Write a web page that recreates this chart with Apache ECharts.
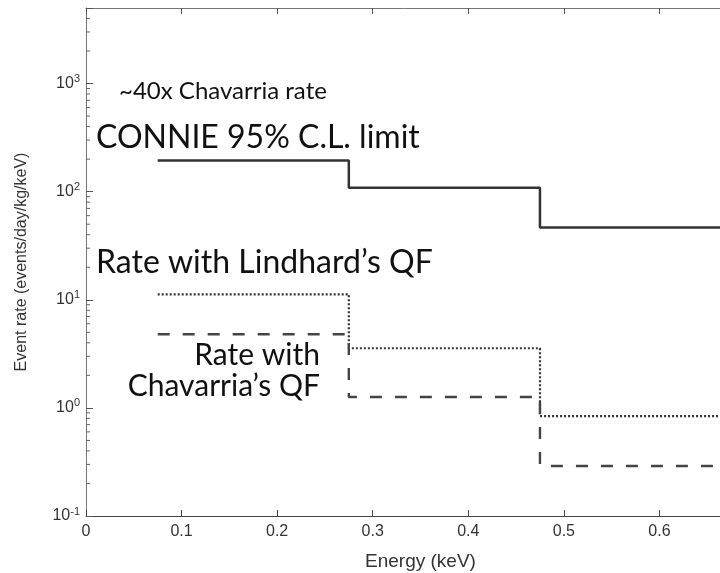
<!DOCTYPE html>
<html>
<head>
<meta charset="utf-8">
<script src="https://cdn.jsdelivr.net/npm/echarts@6/dist/echarts.min.js"></script>
<style>
  html, body { margin: 0; padding: 0; background: #fff; }
  #chart { width: 720px; height: 573px; }
</style>
</head>
<body>
<div id="chart"></div>
<script>
// Energy bin edges (keV) and per-bin event rates (events/day/kg/keV)
const binEdges = [0.075, 0.275, 0.475, 0.675];
const connieLimit = [194, 109, 46.7];
const lindhardRate = [11.2, 3.56, 0.84];
const chavarriaRate = [4.8, 1.26, 0.29];

// Minor tick positions on the log axis
const minorTicks = [
  0.2, 0.3, 0.4, 0.5, 0.6, 0.7, 0.8, 0.9,
  2, 3, 4, 5, 6, 7, 8, 9,
  20, 30, 40, 50, 60, 70, 80, 90,
  200, 300, 400, 500, 600, 700, 800, 900,
  2000, 3000, 4000
];

// Turn per-bin values into step-line points (last value repeated at the final edge)
function stepPoints(values) {
  const pts = values.map((v, i) => [binEdges[i], v]);
  pts.push([binEdges[binEdges.length - 1], values[values.length - 1]]);
  return pts;
}

const axisColor = '#444';
const textColor = '#333';
const sansFont = '"Liberation Sans", Arial, sans-serif';
const annotFont = 'Lato, "Noto Sans", sans-serif';

const chart = echarts.init(document.getElementById('chart'), null, { renderer: 'canvas' });

chart.setOption({
  animation: false,
  backgroundColor: '#fff',
  grid: { left: 86, top: 8, bottom: 57, right: -35, containLabel: false, outerBoundsMode: 'none' },
  xAxis: [
    {
      type: 'value', min: 0, max: 0.7, interval: 0.1, position: 'bottom',
      name: 'Energy (keV)', nameLocation: 'middle', nameGap: 36,
      nameTextStyle: { color: textColor, fontSize: 19, fontFamily: sansFont },
      axisLine: { show: true, lineStyle: { color: axisColor, width: 1 } },
      axisTick: { show: true, inside: true, length: 6, lineStyle: { color: axisColor } },
      axisLabel: {
        color: textColor, fontSize: 16, margin: 8, fontFamily: sansFont,
        formatter: v => (v === 0 ? '0' : v.toFixed(1))
      },
      splitLine: { show: false }
    },
    {
      type: 'value', min: 0, max: 0.7, interval: 0.1, position: 'top',
      axisLine: { show: true, lineStyle: { color: '#777', width: 1 } },
      axisTick: { show: true, inside: true, length: 6, lineStyle: { color: '#555' } },
      axisLabel: { show: false },
      splitLine: { show: false }
    }
  ],
  yAxis: {
    type: 'log', logBase: 10, min: 0.1, max: 5000,
    name: 'Event rate (events/day/kg/keV)', nameLocation: 'middle', nameGap: 56,
    nameRotate: 90,
    nameTextStyle: { color: textColor, fontSize: 16, fontFamily: sansFont },
    axisLine: { show: true, lineStyle: { color: '#777', width: 1 } },
    axisTick: { show: true, inside: true, length: 7, lineStyle: { color: '#555' } },
    axisLabel: {
      margin: 6,
      formatter: v => {
        const e = Math.log10(v);
        if (Math.abs(e - Math.round(e)) > 1e-6) return '';
        return '{b|10}{s|' + Math.round(e) + '}';
      },
      rich: {
        b: { color: textColor, fontSize: 16, fontFamily: sansFont },
        s: { color: textColor, fontSize: 11, fontFamily: sansFont, verticalAlign: 'bottom', padding: [0, 0, 9, 0] }
      }
    },
    splitLine: { show: false }
  },
  series: [
    {
      name: 'CONNIE 95% C.L. limit', type: 'line', step: 'end',
      data: stepPoints(connieLimit), symbol: 'none',
      lineStyle: { color: '#333', width: 2.5, type: 'solid' }
    },
    {
      name: "Rate with Lindhard's QF", type: 'line', step: 'end',
      data: stepPoints(lindhardRate), symbol: 'none',
      lineStyle: { color: '#333', width: 2.2, type: [2, 2] }
    },
    {
      name: "Rate with Chavarria's QF", type: 'line', step: 'end',
      data: stepPoints(chavarriaRate), symbol: 'none',
      lineStyle: { color: '#444', width: 2.4, type: [12, 13] }
    },
    {
      // minor ticks along the log axis, drawn inward from the axis line
      type: 'custom', silent: true, clip: false,
      data: minorTicks.map(v => [0, v]),
      renderItem: (params, api) => {
        const p = api.coord([api.value(0), api.value(1)]);
        return {
          type: 'line',
          shape: { x1: p[0], y1: p[1], x2: p[0] + 4, y2: p[1] },
          style: { stroke: '#666', lineWidth: 1 }
        };
      }
    }
  ],
  graphic: [
    { type: 'text', left: 119, top: 79, style: { text: '~40x Chavarria rate', font: '24px ' + annotFont, fill: '#111' } },
    { type: 'text', left: 96, top: 122, style: { text: 'CONNIE 95% C.L. limit', font: '32px ' + annotFont, fill: '#111' } },
    { type: 'text', left: 96, top: 247, style: { text: 'Rate with Lindhard\u2019s QF', font: '32px ' + annotFont, fill: '#111' } },
    { type: 'text', right: 400, top: 340, style: { text: 'Rate with', font: '30px ' + annotFont, fill: '#111', align: 'right' } },
    { type: 'text', right: 400, top: 371, style: { text: 'Chavarria\u2019s QF', font: '30px ' + annotFont, fill: '#111', align: 'right' } }
  ]
});
</script>
</body>
</html>
